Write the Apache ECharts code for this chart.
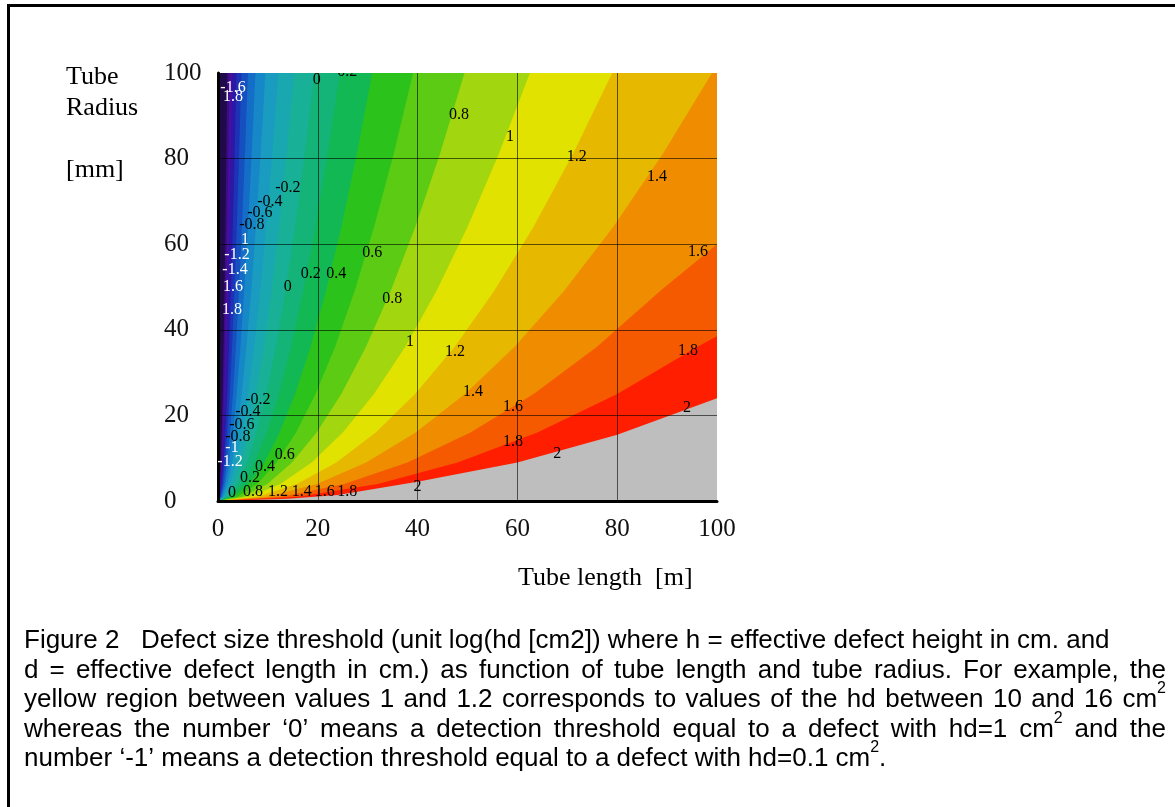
<!DOCTYPE html>
<html>
<head>
<meta charset="utf-8">
<title>Defect size threshold</title>
<script src="https://cdn.jsdelivr.net/npm/echarts@6.0.0/dist/echarts.min.js"></script>
<style>
    html, body { margin: 0; padding: 0; background: #fff; }
    #main { width: 1175px; height: 807px; }
</style>
</head>
<body>
<div id="main"></div>
<script>
// contour levels of log(hd [cm2]); each contour is read as [tube length m, tube radius mm] points
var levels = [-2, -1.8, -1.6, -1.4, -1.2, -1, -0.8, -0.6, -0.4, -0.2, 0, 0.2, 0.4, 0.6, 0.8, 1, 1.2, 1.4, 1.6, 1.8, 2];

// colour of the band below the first level, then of the band above each level
var bandColors = ['#200a4a', '#3a0c88', '#470f9c', '#2a18a8', '#1e32b6', '#1650c0', '#146ec8', '#1688c8',
    '#1a9cc0', '#1aa8b0', '#18b096', '#14b478', '#12b854', '#2cc21c', '#5ccb14', '#a2d60e',
    '#e2e200', '#e7b800', '#ef8c00', '#f65a00', '#ff1e00', '#bebebe'];

var cM20 = [[0, 0], [0.19, 1], [0.37, 4], [0.56, 9], [0.74, 16], [0.93, 25], [1.11, 36], [1.3, 49], [1.48, 64], [1.67, 81], [1.85, 100], [100, 100]];
var cM18 = [[0, 0], [0.23, 1], [0.46, 4], [0.69, 9], [0.92, 16], [1.15, 25], [1.38, 36], [1.61, 49], [1.84, 64], [2.07, 81], [2.3, 100], [100, 100]];
var cM16 = [[0, 0], [0.29, 1], [0.58, 4], [0.87, 9], [1.16, 16], [1.45, 25], [1.74, 36], [2.03, 49], [2.32, 64], [2.61, 81], [2.9, 100], [100, 100]];
var cM14 = [[0, 0], [0.37, 1], [0.74, 4], [1.11, 9], [1.48, 16], [1.85, 25], [2.22, 36], [2.59, 49], [2.96, 64], [3.33, 81], [3.7, 100], [100, 100]];
var cM12 = [[0, 0], [0.47, 1], [0.94, 4], [1.41, 9], [1.88, 16], [2.35, 25], [2.82, 36], [3.29, 49], [3.76, 64], [4.23, 81], [4.7, 100], [100, 100]];
var cM10 = [[0, 0], [0.6, 1], [1.2, 4], [1.8, 9], [2.4, 16], [3, 25], [3.6, 36], [4.2, 49], [4.8, 64], [5.4, 81], [6, 100], [100, 100]];
var cM08 = [[0, 0], [0.75, 1], [1.5, 4], [2.25, 9], [3, 16], [3.75, 25], [4.5, 36], [5.25, 49], [6, 64], [6.75, 81], [7.5, 100], [100, 100]];
var cM06 = [[0, 0], [0.95, 1], [1.9, 4], [2.85, 9], [3.8, 16], [4.75, 25], [5.7, 36], [6.65, 49], [7.6, 64], [8.55, 81], [9.5, 100], [100, 100]];
var cM04 = [[0, 0], [1.21, 1], [2.42, 4], [3.63, 9], [4.84, 16], [6.05, 25], [7.26, 36], [8.47, 49], [9.68, 64], [10.89, 81], [12.1, 100], [100, 100]];
var cM02 = [[0, 0], [1.53, 1], [3.06, 4], [4.59, 9], [6.12, 16], [7.65, 25], [9.18, 36], [10.71, 49], [12.24, 64], [13.77, 81], [15.3, 100], [100, 100]];
var c00 = [[0, 0], [1.93, 1], [3.86, 4], [5.79, 9], [7.72, 16], [9.65, 25], [11.58, 36], [13.51, 49], [15.44, 64], [17.37, 81], [19.3, 100], [100, 100]];
var c02 = [[0, 0], [2.44, 1], [4.88, 4], [7.32, 9], [9.76, 16], [12.2, 25], [14.64, 36], [17.08, 49], [19.52, 64], [21.96, 81], [24.4, 100], [100, 100]];
var c04 = [[0, 0], [3.09, 1], [6.18, 4], [9.27, 9], [12.36, 16], [15.45, 25], [18.54, 36], [21.63, 49], [24.72, 64], [27.81, 81], [30.9, 100], [100, 100]];
var c06 = [[0, 0], [3.91, 1], [7.82, 4], [11.73, 9], [15.64, 16], [19.55, 25], [23.46, 36], [27.37, 49], [31.28, 64], [35.19, 81], [39.1, 100], [100, 100]];
var c08 = [[0, 0], [4.94, 1], [9.88, 4], [14.82, 9], [19.76, 16], [24.7, 25], [29.64, 36], [34.58, 49], [39.52, 64], [44.46, 81], [49.4, 100], [100, 100]];
var c10 = [[0, 0], [6.25, 1], [12.5, 4], [18.75, 9], [25, 16], [31.25, 25], [37.5, 36], [43.75, 49], [50, 64], [56.25, 81], [62.5, 100], [100, 100]];
var c12 = [[0, 0], [7.9, 1], [15.8, 4], [23.7, 9], [31.6, 16], [39.5, 25], [47.4, 36], [55.3, 49], [63.2, 64], [71.1, 81], [79, 100], [100, 100]];
var c14 = [[0, 0], [9.9, 1], [19.8, 4], [29.7, 9], [39.6, 16], [49.5, 25], [59.4, 36], [69.3, 49], [79.2, 64], [89.1, 81], [99, 100], [100, 100]];
var c16 = [[0, 0], [12.65, 1], [25.3, 4], [37.95, 9], [50.6, 16], [63.25, 25], [75.9, 36], [88.55, 49], [100, 60]];
var c18 = [[0, 0], [16, 1], [32, 4], [48, 9], [64, 16], [80, 25], [96, 36], [100, 38.5]];
var c20 = [[0, 0], [14, 0.5], [24, 1.4], [40, 4.5], [60, 9], [80, 15.5], [100, 24]];

var contours = [cM20, cM18, cM16, cM14, cM12, cM10, cM08, cM06, cM04, cM02, c00, c02, c04, c06, c08, c10, c12, c14, c16, c18, c20];

// contour labels as printed on the plot
var labelText = ['0', '0.2', '0.8', '1', '1.2', '1.4', '1.6', '1.8', '2', '2', '1.8', '1.6', '1.4', '1.2', '1', '0.8', '0.6',
    '0.2', '0.4', '0', '-0.8', '-0.6', '-0.4', '-0.2', '-0.2', '-0.4', '-0.6', '-0.8', '0.6', '0.4', '0.2',
    '0', '0.8', '1.2', '1.4', '1.6', '1.8', '2',
    '-1.6', '1.8', '1', '-1.2', '-1.4', '1.6', '1.8', '-1', '-1.2'];
var labelPos = [[19.8, 98.4], [25.9, 100.3], [48.3, 90.2], [58.5, 85], [71.9, 80.4], [88, 75.7], [96.2, 58.2], [94.2, 35], [94, 21.7],
    [68, 11], [59.1, 13.8], [59.1, 22], [51.1, 25.5], [47.5, 34.8], [38.5, 37.2], [34.9, 47.2], [30.9, 57.9],
    [18.6, 53], [23.7, 53], [14, 50], [6.8, 64.5], [8.4, 67.3], [10.4, 69.9], [14, 73.1], [8, 23.6], [6, 20.8],
    [4.8, 17.8], [4, 15], [13.4, 10.7], [9.4, 8], [6.4, 5.4],
    [2.8, 1.9], [7, 2.1], [12, 2.1], [16.8, 2.1], [21.4, 2.1], [25.9, 2.1], [40, 3.3],
    [3, 96.5], [3, 94.4], [5.4, 61], [3.8, 57.5], [3.4, 54], [3, 50], [2.8, 44.6], [2.8, 12.4], [2.4, 9.1]];
var labelWhite = [0, 0, 0, 0, 0, 0, 0, 0, 0, 0, 0, 0, 0, 0, 0, 0, 0, 0, 0, 0, 0, 0, 0, 0, 0, 0, 0, 0, 0, 0, 0,
    0, 0, 0, 0, 0, 0, 0, 1, 1, 1, 1, 1, 1, 1, 1, 1];

var axisTicks = [0, 20, 40, 60, 80, 100];

var captionLines = [
    'Figure 2   Defect size threshold (unit log(hd [cm2]) where h = effective defect height in cm. and',
    'd = effective defect length in cm.) as function of tube length and tube radius. For example, the',
    'yellow region between values 1 and 1.2 corresponds to values of the hd between 10 and 16 cm^2',
    'whereas the number \u20180\u2019 means a detection threshold equal to a defect with hd=1 cm^2 and the',
    'number \u2018-1\u2019 means a detection threshold equal to a defect with hd=0.1 cm^2.'
];
var captionJustify = [false, true, true, true, false];

var SERIF = '"Liberation Serif", "Times New Roman", serif';
var SANS = '"Liberation Sans", Arial, sans-serif';

function txt(x, y, text, font) {
    return {
        type: 'text', x: x, y: y, silent: true,
        style: { text: text, font: font, fill: '#000', textAlign: 'left', textVerticalAlign: 'middle' }
    };
}

// caption words are placed one by one so lines 2-4 can be justified
function captionElements() {
    var ctx = document.createElement('canvas').getContext('2d');
    var font = '26px ' + SANS;
    var supFont = '16px ' + SANS;
    var left = 24, right = 1166, top = 641, lead = 29.5;
    var out = [];
    function w(t, f) { ctx.font = f; return ctx.measureText(t).width; }
    captionLines.forEach(function (line, i) {
        var y = top + i * lead;
        var words = line.split(' ').map(function (s) {
            var m = s.match(/^(.*)\^(\d)(.*)$/);
            var p = m ? { base: m[1], sup: m[2], tail: m[3] } : { base: s, sup: '', tail: '' };
            p.width = w(p.base, font) + (p.sup ? w(p.sup, supFont) : 0) + w(p.tail, font);
            return p;
        });
        var total = 0;
        words.forEach(function (p) { total += p.width; });
        var gap = captionJustify[i] ? (right - left - total) / (words.length - 1) : w(' ', font);
        var x = left;
        words.forEach(function (p) {
            if (p.base) out.push(txt(x, y, p.base, font));
            var x2 = x + w(p.base, font);
            if (p.sup) {
                out.push(txt(x2, y - 11, p.sup, supFont));
                x2 += w(p.sup, supFont);
            }
            if (p.tail) out.push(txt(x2, y, p.tail, font));
            x += p.width + gap;
        });
    });
    return out;
}

var dom = document.getElementById('main');
var myChart = echarts.init(dom, null, { renderer: 'canvas' });

var series = contours.map(function (c, i) {
    return {
        name: 'log(hd) \u2265 ' + levels[i],
        type: 'line',
        data: c,
        z: 2,
        symbol: 'none',
        silent: true,
        lineStyle: { width: 0, opacity: 0 },
        areaStyle: { color: bandColors[i + 1], opacity: 1, origin: 'start' }
    };
});

series.push({
    type: 'custom',
    z: 10,
    silent: true,
    data: labelPos,
    renderItem: function (params, api) {
        var p = api.coord([api.value(0), api.value(1)]);
        var cs = params.coordSys;
        return {
            type: 'text',
            clipPath: { type: 'rect', shape: { x: cs.x - p[0], y: cs.y - p[1], width: cs.width, height: cs.height } },
            x: p[0],
            y: p[1],
            style: {
                text: labelText[params.dataIndex],
                fill: labelWhite[params.dataIndex] ? '#fff' : '#000',
                font: '16px ' + SERIF,
                align: 'center',
                verticalAlign: 'middle'
            }
        };
    }
});

var option = {
    animation: false,
    grid: {
        left: 218, top: 73, width: 499, height: 428,
        show: true, backgroundColor: bandColors[0], borderWidth: 0
    },
    xAxis: {
        type: 'value', min: axisTicks[0], max: axisTicks[5], interval: 20, z: 5,
        axisLine: { show: true, onZero: false, lineStyle: { color: '#000', width: 3 } },
        axisTick: { show: false },
        axisLabel: { margin: 16, color: '#111', fontFamily: SERIF, fontSize: 25 },
        splitLine: { show: true, showMinLine: false, showMaxLine: false, lineStyle: { color: 'rgba(0,0,0,0.6)', width: 1 } }
    },
    yAxis: {
        type: 'value', min: axisTicks[0], max: axisTicks[5], interval: 20, z: 5,
        axisLine: { show: true, onZero: false, lineStyle: { color: '#000', width: 3 } },
        axisTick: { show: false },
        axisLabel: { margin: 54, align: 'left', color: '#111', fontFamily: SERIF, fontSize: 25 },
        splitLine: { show: true, showMinLine: false, showMaxLine: false, lineStyle: { color: 'rgba(0,0,0,0.6)', width: 1 } }
    },
    graphic: [
        { type: 'line', silent: true, shape: { x1: 7, y1: 5.5, x2: 1175, y2: 5.5 }, style: { stroke: '#000', lineWidth: 3 } },
        { type: 'line', silent: true, shape: { x1: 8.5, y1: 4, x2: 8.5, y2: 807 }, style: { stroke: '#000', lineWidth: 3 } },
        txt(66, 77, 'Tube', '26px ' + SERIF),
        txt(66, 108, 'Radius', '26px ' + SERIF),
        txt(66, 170, '[mm]', '26px ' + SERIF),
        txt(518, 578, 'Tube length  [m]', '26px ' + SERIF)
    ].concat(captionElements()),
    series: series
};

if (option && typeof option === 'object') {
    myChart.setOption(option);
}

window.addEventListener('resize', myChart.resize);
</script>
</body>
</html>
